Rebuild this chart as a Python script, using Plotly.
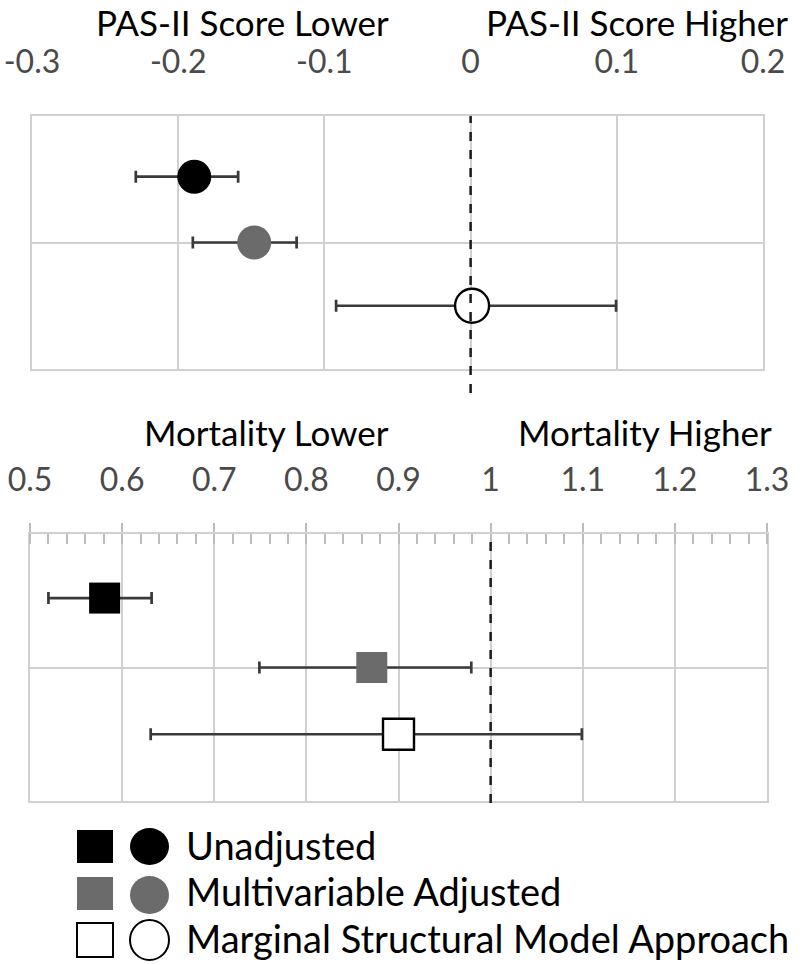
import plotly.graph_objects as go

# ---- data ----
groups = ["Unadjusted", "Multivariable Adjusted", "Marginal Structural Model Approach"]
row_pos = [1.52, 1.0, 0.5]

pas_est = [-0.189, -0.148, 0.001]
pas_lo = [-0.229, -0.190, -0.092]
pas_hi = [-0.159, -0.119, 0.0995]

mort_est = [0.581, 0.871, 0.900]
mort_lo = [0.520, 0.749, 0.631]
mort_hi = [0.632, 0.979, 1.099]

pas_ticks = [-0.3, -0.2, -0.1, 0, 0.1, 0.2]
pas_ticktext = ["-0.3", "-0.2", "-0.1", "0", "0.1", "0.2"]
mort_ticks = [0.5, 0.6, 0.7, 0.8, 0.9, 1.0, 1.1, 1.2, 1.3]
mort_ticktext = ["0.5", "0.6", "0.7", "0.8", "0.9", "1", "1.1", "1.2", "1.3"]

fills = ["#000000", "#6b6b6b", "#ffffff"]
W, H = 800, 965
FONT = "Lato"
GRID = "#d0d0d0"
TICKCOL = "#4a4a4a"

def px(x):
    return x / W

def py(y):
    return 1 - y / H

fig = go.Figure()

for i in range(3):
    fig.add_trace(go.Scatter(
        x=[pas_est[i]], y=[row_pos[i]], xaxis="x", yaxis="y", mode="markers",
        marker=dict(symbol="circle", size=34, color=fills[i],
                    line=dict(color="#000000", width=2.4 if i == 2 else 0)),
        error_x=dict(type="data", symmetric=False,
                     array=[pas_hi[i] - pas_est[i]], arrayminus=[pas_est[i] - pas_lo[i]],
                     color="#3a3a3a", thickness=2.7, width=6),
        showlegend=False, hoverinfo="skip"))
    fig.add_trace(go.Scatter(
        x=[mort_est[i]], y=[row_pos[i]], xaxis="x2", yaxis="y2", mode="markers",
        marker=dict(symbol="square", size=31, color=fills[i],
                    line=dict(color="#000000", width=2.4 if i == 2 else 0)),
        error_x=dict(type="data", symmetric=False,
                     array=[mort_hi[i] - mort_est[i]], arrayminus=[mort_est[i] - mort_lo[i]],
                     color="#3a3a3a", thickness=2.7, width=6),
        showlegend=False, hoverinfo="skip"))

common_x = dict(showline=True, mirror=True, linecolor=GRID, linewidth=2,
                showgrid=True, gridcolor=GRID, gridwidth=2, zeroline=False,
                side="top", automargin=False,
                tickfont=dict(family=FONT, size=32, color=TICKCOL))
common_y = dict(range=[0, 2], tickvals=[1], showticklabels=False, showgrid=True,
                gridcolor=GRID, gridwidth=2, zeroline=False, showline=True,
                mirror=True, linecolor=GRID, linewidth=2, automargin=False)

fig.update_layout(
    width=W, height=H, margin=dict(l=0, r=0, t=0, b=0, autoexpand=False),
    paper_bgcolor="white", plot_bgcolor="white",
    xaxis=dict(domain=[px(32), px(763)], range=[-0.3, 0.2], anchor="y",
               tickvals=pas_ticks, ticktext=pas_ticktext, ticks="",
               ticklabelstandoff=28, **common_x),
    yaxis=dict(domain=[py(369), py(116)], anchor="x", **common_y),
    xaxis2=dict(domain=[px(30), px(767)], range=[0.5, 1.3], anchor="y2",
                tickvals=mort_ticks, ticktext=mort_ticktext,
                ticks="outside", ticklen=9, tickwidth=2, tickcolor="#bdbdbd",
                minor=dict(dtick=0.02, tick0=0.5, ticks="inside", ticklen=10,
                           tickwidth=2, tickcolor="#bdbdbd", showgrid=False),
                ticklabelstandoff=19, **common_x),
    yaxis2=dict(domain=[py(801), py(534)], anchor="x2", **common_y),
)

# dashed reference lines
fig.add_shape(type="line", xref="x", yref="paper", x0=0, x1=0, y0=py(393), y1=py(116),
              line=dict(color="#1a1a1a", width=2.5, dash="dash"))
fig.add_shape(type="line", xref="x2", yref="paper", x0=1, x1=1, y0=py(803), y1=py(534),
              line=dict(color="#1a1a1a", width=2.5, dash="dash"))

# direction titles (top row anchored to the top edge)
for t, x in [("PAS-II Score Lower", 390), ("PAS-II Score Higher", 789)]:
    fig.add_annotation(text=t, xref="paper", yref="paper", x=px(x), y=1.0,
                       xanchor="right", yanchor="top", showarrow=False, borderpad=0,
                       font=dict(family=FONT, size=35, color="#000000"))
for t, x in [("Mortality Lower", 391), ("Mortality Higher", 774)]:
    fig.add_annotation(text=t, xref="paper", yref="paper", x=px(x), y=py(432),
                       xanchor="right", yanchor="middle", showarrow=False,
                       font=dict(family=FONT, size=35, color="#000000"))

# legend
leg_rows = [(830, 863, 828, 865, 845), (877, 910, 876, 914, 891), (923, 957, 920, 960, 938)]
for i, (sy0, sy1, cy0, cy1, ty) in enumerate(leg_rows):
    lw = 2 if i == 2 else 0
    fig.add_shape(type="rect", xref="paper", yref="paper",
                  x0=px(77), x1=px(113), y0=py(sy1), y1=py(sy0),
                  fillcolor=fills[i], line=dict(color="#000000", width=lw))
    fig.add_shape(type="circle", xref="paper", yref="paper",
                  x0=px(130), x1=px(169), y0=py(cy1), y1=py(cy0),
                  fillcolor=fills[i], line=dict(color="#000000", width=lw))
    fig.add_annotation(text=groups[i], xref="paper", yref="paper", x=px(184), y=py(ty),
                       xanchor="left", yanchor="middle", showarrow=False,
                       font=dict(family=FONT, size=38, color="#000000"))

fig.write_html("out.html", config={"displayModeBar": False},
               post_script="document.body.style.margin='0';document.body.style.overflow='hidden';")
